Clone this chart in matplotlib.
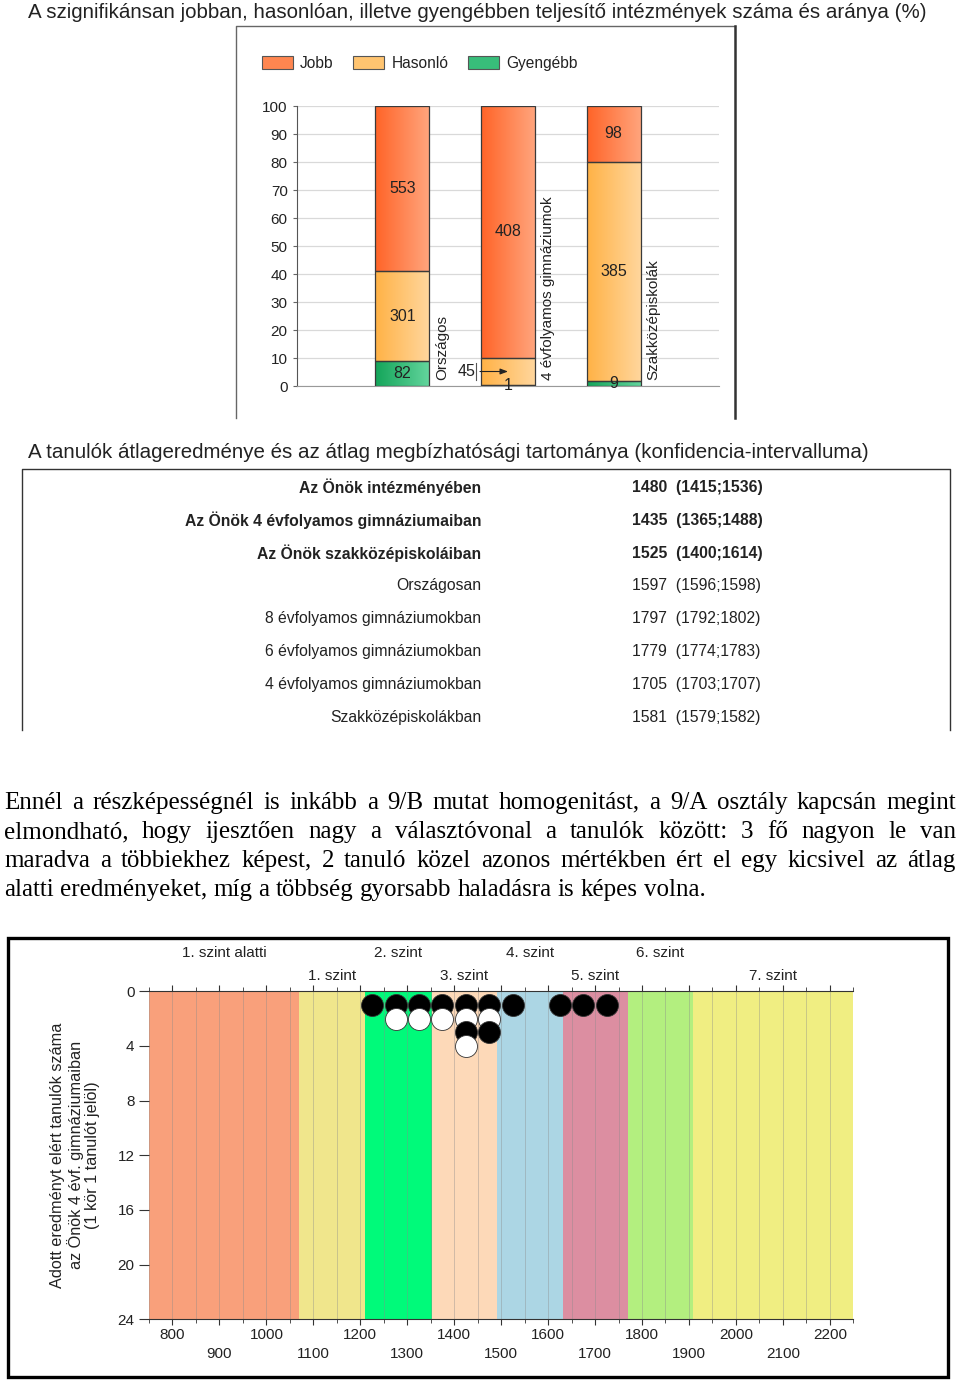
import numpy as np
import matplotlib.pyplot as plt
from matplotlib.lines import Line2D
from matplotlib.patches import Rectangle
from matplotlib.colors import LinearSegmentedColormap

plt.rcParams['font.family'] = ['Liberation Sans', 'DejaVu Sans']

# ---- data ---------------------------------------------------------------
groups = ['Országos', '4 évfolyamos gimnáziumok', 'Szakközépiskolák']
jobb = [553, 408, 98]
hasonlo = [301, 45, 385]
gyengebb = [82, 1, 9]

row_labels = ['Az Önök intézményében', 'Az Önök 4 évfolyamos gimnáziumaiban',
              'Az Önök szakközépiskoláiban', 'Országosan',
              '8 évfolyamos gimnáziumokban', '6 évfolyamos gimnáziumokban',
              '4 évfolyamos gimnáziumokban', 'Szakközépiskolákban']
row_mean = [1480, 1435, 1525, 1597, 1797, 1779, 1705, 1581]
row_low = [1415, 1365, 1400, 1596, 1792, 1774, 1703, 1579]
row_high = [1536, 1488, 1614, 1598, 1802, 1783, 1707, 1582]
row_bold = [True, True, True, False, False, False, False, False]

paragraph = [
    'Ennél a részképességnél is inkább a 9/B mutat homogenitást, a 9/A osztály kapcsán megint',
    'elmondható, hogy ijesztően nagy a választóvonal a tanulók között: 3 fő nagyon le van',
    'maradva a többiekhez képest, 2 tanuló közel azonos mértékben ért el egy kicsivel az átlag',
    'alatti eredményeket, míg a többség gyorsabb haladásra is képes volna.',
]

levels = ['1. szint alatti', '1. szint', '2. szint', '3. szint',
          '4. szint', '5. szint', '6. szint', '7. szint']
level_edges = [750, 1070, 1211, 1352, 1492, 1632, 1770, 1909, 2250]
level_colors = ['#f9a07b', '#f0e68c', '#00fa7a', '#fdd9b8',
                '#acd6e4', '#dc8ea1', '#b3ef7f', '#f0ee82']
score_bins = [1225, 1275, 1325, 1375, 1425, 1475, 1525, 1625, 1675, 1725]
bin_counts = [1, 2, 2, 2, 4, 3, 1, 1, 1, 1]

# ---- helpers (pixel coords, origin top-left) ----------------------------
W, H = 960, 1380
fig = plt.figure(figsize=(W / 100, H / 100), dpi=100)
TXT = '#222222'


def rect(x0, y0, x1, y1):
    return [x0 / W, 1 - y1 / H, (x1 - x0) / W, (y1 - y0) / H]


def fx(x):
    return x / W


def fy(y):
    return 1 - y / H


def fline(xs, ys, **kw):
    fig.add_artist(Line2D([fx(x) for x in xs], [fy(y) for y in ys], **kw))


# ---- 1. stacked bar chart ----------------------------------------------
fig.text(fx(28), fy(12), 'A szignifikánsan jobban, hasonlóan, illetve gyengébben '
         'teljesítő intézmények száma és aránya (%)',
         fontsize=14.75, color=TXT, va='center', ha='left')
fline([236, 236, 735], [418, 26, 26], color='#666666', lw=1.0)
fline([735, 735], [26, 418], color='#333333', lw=1.8)

cmaps = {
    'Jobb': LinearSegmentedColormap.from_list('j', ['#ff6428', '#ffa47c']),
    'Hasonló': LinearSegmentedColormap.from_list('h', ['#ffb246', '#ffd69c']),
    'Gyengébb': LinearSegmentedColormap.from_list('g', ['#14a55a', '#62d49c']),
}
mids = {'Jobb': '#ff8650', 'Hasonló': '#ffc470', 'Gyengébb': '#38bd7a'}

ax1 = fig.add_axes(rect(296.7, 106, 719.3, 386))
tot = np.array(jobb) + np.array(hasonlo) + np.array(gyengebb)
p_gy = 100 * np.array(gyengebb) / tot
p_h = 100 * np.array(hasonlo) / tot
p_j = 100 * np.array(jobb) / tot
xpos = np.arange(1, len(groups) + 1)
bw = 0.51
grad = np.linspace(0, 1, 64).reshape(1, -1)

segments = [('Gyengébb', gyengebb, p_gy, np.zeros(3)),
            ('Hasonló', hasonlo, p_h, p_gy),
            ('Jobb', jobb, p_j, p_gy + p_h)]
for name, counts, heights, bottoms in segments:
    for i, x in enumerate(xpos):
        ax1.imshow(grad, extent=[x - bw / 2, x + bw / 2, bottoms[i], bottoms[i] + heights[i]],
                   cmap=cmaps[name], aspect='auto', zorder=2)
    ax1.bar(xpos, heights, bottom=bottoms, width=bw, facecolor='none',
            edgecolor='#3a3a3a', lw=0.9, zorder=3)
    for i, x in enumerate(xpos):
        yc = bottoms[i] + heights[i] / 2
        if name == 'Hasonló' and i == 1:
            x0 = x - bw / 2 - 0.05
            ax1.annotate(str(counts[i]), xy=(x, yc), xytext=(x0, yc),
                         ha='right', va='center', fontsize=11.5, color=TXT,
                         arrowprops=dict(arrowstyle='-|>,head_length=0.4,head_width=0.15',
                                         lw=0.8, color='#222222', shrinkA=1, shrinkB=0),
                         zorder=5)
            ax1.plot([x0, x0], [yc - 3.2, yc + 3.2], color='#555555', lw=0.8, zorder=5)
        else:
            ax1.text(x, yc, str(counts[i]), ha='center', va='center',
                     fontsize=11.5, color=TXT, zorder=5)

for i, x in enumerate(xpos):
    ax1.text(x + 0.38, 2.0, groups[i], rotation=90, ha='center', va='bottom',
             fontsize=11, color=TXT)

ax1.set_xlim(0, 4)
ax1.set_ylim(0, 100)
ax1.set_yticks(np.arange(0, 101, 10))
ax1.set_xticks([])
ax1.tick_params(axis='y', labelsize=11, labelcolor=TXT, length=3, color='#666666')
ax1.grid(axis='y', color='#d9d9d9', lw=0.9)
ax1.set_axisbelow(True)
for s in ['top', 'right']:
    ax1.spines[s].set_visible(False)
ax1.spines['left'].set_color('#555555')
ax1.spines['bottom'].set_color('#999999')

handles = [Rectangle((0, 0), 1, 1, facecolor=mids[k], edgecolor='#555555', lw=0.8)
           for k in ['Jobb', 'Hasonló', 'Gyengébb']]
fig.legend(handles, ['Jobb', 'Hasonló', 'Gyengébb'], loc='upper left',
           bbox_to_anchor=(fx(262), fy(56)), ncol=3, frameon=False, fontsize=11.2,
           handlelength=2.0, handleheight=0.95, handletextpad=0.45,
           columnspacing=1.25, borderpad=0, borderaxespad=0, labelcolor=TXT)

# ---- 2. mean table ------------------------------------------------------
fig.text(fx(28), fy(452), 'A tanulók átlageredménye és az átlag megbízhatósági '
         'tartománya (konfidencia-intervalluma)',
         fontsize=14.75, color=TXT, va='center', ha='left')
fline([22, 22, 950, 950], [730, 469, 469, 730], color='#333333', lw=1.0)
for i, lab in enumerate(row_labels):
    y = fy(487.5 + i * 32.8)
    fw = 'bold' if row_bold[i] else 'normal'
    fig.text(fx(481), y, lab, ha='right', va='center', fontsize=11.3,
             fontweight=fw, color=TXT)
    fig.text(fx(632), y, f'{row_mean[i]}  ({row_low[i]};{row_high[i]})',
             ha='left', va='center', fontsize=11.3, fontweight=fw, color=TXT)

# ---- 3. justified paragraph -------------------------------------------
renderer = fig.canvas.get_renderer()
for i, line in enumerate(paragraph):
    y = fy(803 + i * 29)
    words = line.split()
    arts = [fig.text(0, y, w, fontsize=18, family='Liberation Serif',
                     va='center', ha='left', color='black') for w in words]
    widths = [a.get_window_extent(renderer).width for a in arts]
    if i < len(paragraph) - 1:
        gap = (952 - sum(widths)) / (len(words) - 1)
    else:
        gap = 6.2
    x = 4
    for a, w in zip(arts, widths):
        a.set_x(fx(x))
        x += w + gap

# ---- 4. dot plot on proficiency levels --------------------------------
fig.add_artist(Rectangle((fx(8), fy(1377)), 940 / W, 439 / H, fill=False,
                         lw=2.4, ec='black', transform=fig.transFigure))
ax3 = fig.add_axes(rect(149, 991.3, 853.3, 1319.3))
for i in range(len(levels)):
    ax3.axvspan(level_edges[i], level_edges[i + 1], color=level_colors[i], lw=0, zorder=0)
    mid = (level_edges[i] + level_edges[i + 1]) / 2
    ax3.text(mid, -2.8 if i % 2 == 0 else -1.1, levels[i], ha='center', va='center',
             fontsize=11, color=TXT)

ax3.set_xlim(750, 2250)
ax3.set_ylim(24, 0)
ax3.set_xticks(np.arange(800, 2201, 100))
ax3.set_xticks(np.arange(750, 2251, 50), minor=True)
ax3.set_xticklabels([str(v) if (v // 100) % 2 == 0 else '\n' + str(v)
                     for v in range(800, 2201, 100)])
for lbl in ax3.get_xticklabels():
    lbl.set_linespacing(1.45)
ax3.set_yticks(np.arange(0, 25, 4))
ax3.tick_params(axis='x', which='both', top=True, direction='out', color='#333333',
                labelsize=11, labelcolor=TXT, pad=2)
ax3.tick_params(axis='x', which='major', length=4)
ax3.tick_params(axis='x', which='minor', length=3)
ax3.tick_params(axis='y', length=7, color='#333333', labelsize=11, labelcolor=TXT)
ax3.grid(axis='x', which='both', color='#8a8a8a', lw=0.6, alpha=0.45, zorder=1)
for s in ['left', 'right']:
    ax3.spines[s].set_visible(False)
ax3.spines['top'].set_color('#333333')
ax3.spines['bottom'].set_color('#333333')

for r in range(1, max(bin_counts) + 1):
    xs = [b for b, c in zip(score_bins, bin_counts) if c >= r]
    fc = 'black' if r % 2 else 'white'
    ax3.scatter(xs, [r] * len(xs), s=250, c=fc, edgecolors='#333333',
                linewidths=0.6, zorder=3 + r, clip_on=False)

fig.text(fx(75), fy(1155), 'Adott eredményt elért tanulók száma\naz Önök 4 évf. '
         'gimnáziumaiban\n(1 kör 1 tanulót jelöl)', rotation=90, ha='center',
         va='center', multialignment='center', fontsize=11.7, linespacing=1.12, color=TXT)

fig.savefig('out.png', dpi=100)
